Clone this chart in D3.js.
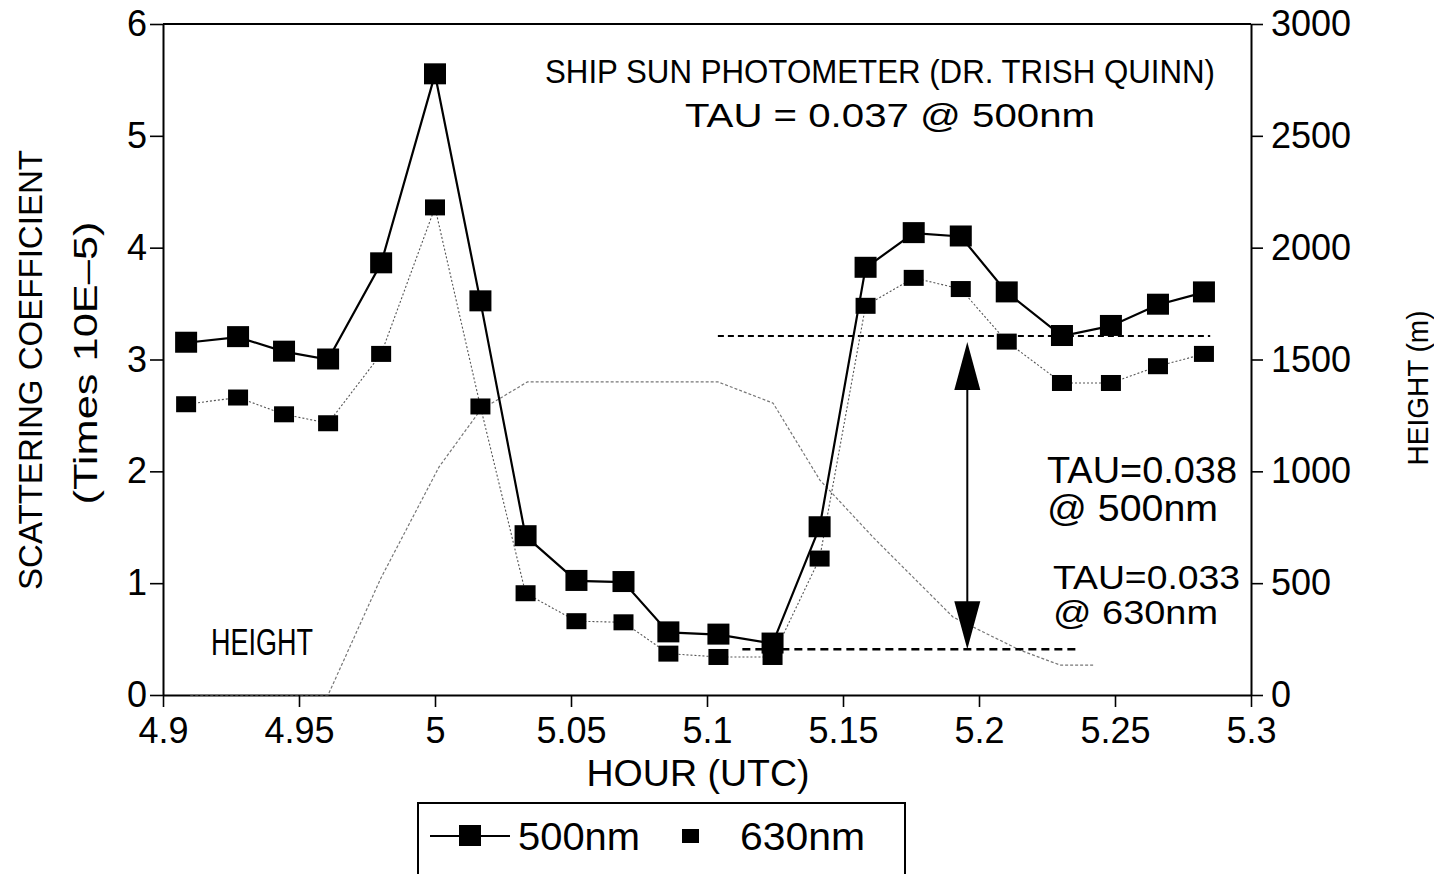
<!DOCTYPE html>
<html>
<head>
<meta charset="utf-8">
<script src="https://cdn.jsdelivr.net/npm/d3@7"></script>
<style>
  html, body { margin: 0; padding: 0; background: #fff; }
  svg { display: block; }
  text { font-family: "Liberation Sans", Arial, sans-serif; fill: #000; }
</style>
</head>
<body>
<svg id="chart" width="1434" height="874"></svg>
<script>
// ---------- DATA ----------
const hours = [4.9085, 4.9276, 4.9445, 4.9607, 4.9802, 5.0, 5.0167, 5.0333, 5.052, 5.0693, 5.0858,
               5.1042, 5.1241, 5.1414, 5.1583, 5.176, 5.1933, 5.2102, 5.2305, 5.2485, 5.2658, 5.2827];
const scat500 = [3.15, 3.20, 3.07, 3.00, 3.86, 5.55, 3.52, 1.42, 1.02, 1.01, 0.56,
                 0.54, 0.46, 1.50, 3.82, 4.13, 4.10, 3.60, 3.21, 3.30, 3.49, 3.60];
const scat630 = [2.60, 2.66, 2.51, 2.43, 3.05, 4.36, 2.58, 0.91, 0.66, 0.65, 0.37,
                 0.34, 0.34, 1.22, 3.48, 3.73, 3.63, 3.16, 2.79, 2.79, 2.94, 3.05];
const heightHours = [4.910, 4.9607, 4.980, 5.0015, 5.0167, 5.034, 5.104, 5.1243, 5.1415, 5.161,
                     5.1904, 5.1978, 5.215, 5.2298, 5.242];
const heightMeters = [0, 0, 520, 1020, 1274, 1400, 1400, 1305, 961, 706,
                      349, 304, 201, 134, 134];
const xTicks = [4.9, 4.95, 5.0, 5.05, 5.1, 5.15, 5.2, 5.25, 5.3];
const yLeftTicks = [0, 1, 2, 3, 4, 5, 6];
const yRightTicks = [0, 500, 1000, 1500, 2000, 2500, 3000];
// annotation values (data units)
const upperRef = { x0: 5.104, x1: 5.285, y: 3.21 };
const lowerRef = { x0: 5.113, x1: 5.236, y: 0.41 };
const arrowRef = { x: 5.1957, y0: 3.21, y1: 0.41 };

// ---------- SCALES ----------
const svg = d3.select("#chart");
const x = d3.scaleLinear().domain([4.9, 5.3]).range([163, 1251]);
const yL = d3.scaleLinear().domain([0, 6]).range([695, 24]);
const yR = d3.scaleLinear().domain([0, 3000]).range([695, 24]);

const fmt = d => String(+d.toFixed(2));

// ---------- AXES ----------
const gx = svg.append("g").attr("transform", "translate(0,695)")
  .call(d3.axisBottom(x).tickValues(xTicks).tickFormat(fmt).tickSize(12).tickSizeOuter(0).tickPadding(10));
const gl = svg.append("g").attr("transform", "translate(163,0)")
  .call(d3.axisLeft(yL).tickValues(yLeftTicks).tickFormat(fmt).tickSize(13).tickSizeOuter(0).tickPadding(3));
const gr = svg.append("g").attr("transform", "translate(1251,0)")
  .call(d3.axisRight(yR).tickValues(yRightTicks).tickFormat(d3.format("d")).tickSize(12).tickSizeOuter(0).tickPadding(8));

[gx, gl, gr].forEach(g => {
  g.selectAll("path.domain").attr("stroke", "#000").attr("stroke-width", 2);
  g.selectAll(".tick line").attr("stroke", "#000").attr("stroke-width", 1.6);
  g.selectAll(".tick text").style("font-size", "36px").attr("fill", "#000")
    .style("font-family", '"Liberation Sans", Arial, sans-serif');
});
// top frame line
svg.append("line").attr("x1", x(4.9)).attr("x2", x(5.3)).attr("y1", yL(6)).attr("y2", yL(6))
  .attr("stroke", "#000").attr("stroke-width", 2);

// ---------- HEIGHT LINE ----------
const hLine = d3.line().x((d, i) => x(heightHours[i])).y(d => yR(d));
svg.append("path").datum(heightMeters).attr("d", hLine)
  .attr("fill", "none").attr("stroke", "#777").attr("stroke-width", 1.2).attr("stroke-dasharray", "3,2");

// ---------- REFERENCE LINES & ARROW ----------
svg.append("line").attr("x1", x(upperRef.x0)).attr("x2", x(upperRef.x1))
  .attr("y1", yL(upperRef.y)).attr("y2", yL(upperRef.y))
  .attr("stroke", "#000").attr("stroke-width", 2).attr("stroke-dasharray", "6,4");
svg.append("line").attr("x1", x(lowerRef.x0)).attr("x2", x(lowerRef.x1))
  .attr("y1", yL(lowerRef.y)).attr("y2", yL(lowerRef.y))
  .attr("stroke", "#000").attr("stroke-width", 2.5).attr("stroke-dasharray", "8,5");

const ax = x(arrowRef.x), ay0 = yL(arrowRef.y0) + 6, ay1 = yL(arrowRef.y1);
svg.append("line").attr("x1", ax).attr("x2", ax).attr("y1", ay0 + 40).attr("y2", ay1 - 40)
  .attr("stroke", "#000").attr("stroke-width", 2);
svg.append("path").attr("d", `M${ax},${ay0} L${ax - 13},${ay0 + 48} L${ax + 13},${ay0 + 48} Z`).attr("fill", "#000");
svg.append("path").attr("d", `M${ax},${ay1} L${ax - 13},${ay1 - 48} L${ax + 13},${ay1 - 48} Z`).attr("fill", "#000");

// ---------- SERIES ----------
const line500 = d3.line().x((d, i) => x(hours[i])).y(d => yL(d));
svg.append("path").datum(scat630).attr("d", line500)
  .attr("fill", "none").attr("stroke", "#555").attr("stroke-width", 1.1).attr("stroke-dasharray", "2,2");
svg.append("path").datum(scat500).attr("d", line500)
  .attr("fill", "none").attr("stroke", "#000").attr("stroke-width", 2.2);

svg.append("g").selectAll("rect").data(scat630).join("rect")
  .attr("x", (d, i) => x(hours[i]) - 10).attr("y", d => yL(d) - 8)
  .attr("width", 20).attr("height", 16).attr("fill", "#000");
svg.append("g").selectAll("rect").data(scat500).join("rect")
  .attr("x", (d, i) => x(hours[i]) - 11).attr("y", d => yL(d) - 11)
  .attr("width", 22).attr("height", 21).attr("fill", "#000");

// ---------- TEXT ----------
function txt(str, px, py, size, opts = {}) {
  const t = svg.append("text").attr("x", px).attr("y", py).text(str)
    .style("font-size", size + "px")
    .attr("text-anchor", opts.anchor || "start");
  if (opts.len) t.attr("textLength", opts.len).attr("lengthAdjust", "spacingAndGlyphs");
  if (opts.fill) t.attr("fill", opts.fill);
  if (opts.rot) t.attr("transform", `rotate(${opts.rot},${px},${py})`);
  if (opts.weight) t.style("font-weight", opts.weight);
  return t;
}
txt("SHIP SUN PHOTOMETER (DR. TRISH QUINN)", 880, 83, 33, { anchor: "middle", len: 670 });
txt("TAU = 0.037 @ 500nm", 890, 127, 34, { anchor: "middle", len: 410 });
txt("HEIGHT", 211, 655, 36, { len: 102 });
txt("HOUR (UTC)", 698, 786, 37, { anchor: "middle", len: 223 });
txt("TAU=0.038", 1047, 483, 37, { len: 190 });
txt("@ 500nm", 1047, 521, 37, { len: 171 });
txt("TAU=0.033", 1053, 589, 34, { len: 187, fill: "#555", weight: 300 });
txt("@ 630nm", 1053, 624, 34, { len: 165, fill: "#555", weight: 300 });
txt("SCATTERING COEFFICIENT", 42, 370, 34, { anchor: "middle", len: 440, rot: -90 });
txt("(Times 10E\u20135)", 97, 363, 34, { anchor: "middle", len: 283, rot: -90 });
txt("HEIGHT (m)", 1428, 388, 30, { anchor: "middle", len: 155, rot: -90 });

// ---------- LEGEND ----------
const lg = svg.append("g");
lg.append("rect").attr("x", 418).attr("y", 803).attr("width", 487).attr("height", 120)
  .attr("fill", "none").attr("stroke", "#000").attr("stroke-width", 2);
lg.append("line").attr("x1", 430).attr("x2", 510).attr("y1", 836).attr("y2", 836)
  .attr("stroke", "#000").attr("stroke-width", 2.2);
lg.append("rect").attr("x", 459).attr("y", 825).attr("width", 22).attr("height", 21).attr("fill", "#000");
lg.append("rect").attr("x", 682).attr("y", 829).attr("width", 17).attr("height", 14).attr("fill", "#000");
txt("500nm", 518, 850, 38, { len: 122 });
txt("630nm", 740, 850, 38, { len: 125 });
</script>
</body>
</html>
